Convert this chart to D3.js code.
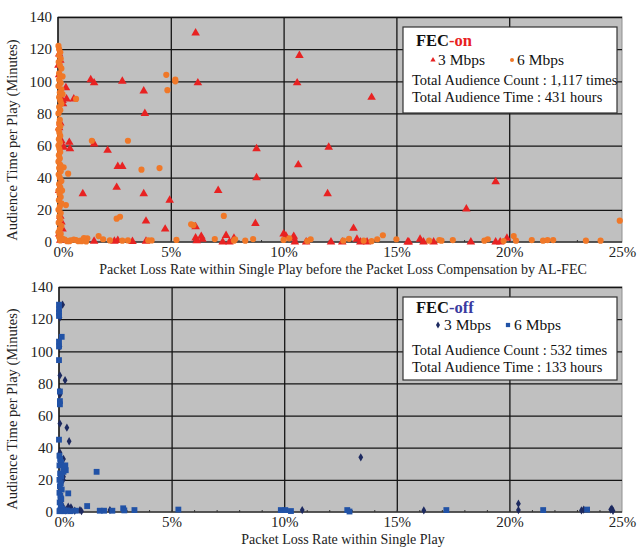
<!DOCTYPE html>
<html><head><meta charset="utf-8">
<script src="https://cdn.jsdelivr.net/npm/d3@7/dist/d3.min.js"></script>
<style>body{margin:0;background:#fff}svg text{font-family:"Liberation Serif","Times New Roman",Times,serif !important}</style>
</head><body><svg id="c" width="640" height="548"></svg>
<script>
const xTicks = [0, 5, 10, 15, 20, 25];
const xTickLabels = ["0%", "5%", "10%", "15%", "20%", "25%"];
const yTicks = [0, 20, 40, 60, 80, 100, 120, 140];

// FEC-on, 3 Mbps (red triangles): [loss %, minutes]
const fecOn3 = [
 [6.1,130],[10.7,116],[10.6,99],[6.2,99],[1.45,101],[1.6,99],[2.85,100],[3.8,94],[3.85,80],
 [0.35,96],[0.38,89],[0.22,86],[0.7,89],[0.5,62],[0.53,58],[0.25,59],[1.6,61],[2.2,57],
 [2.65,47],[2.85,47],[8.8,58],[8.8,40],[10.65,48],[1.1,30],[2.6,34],[3.8,30],[7.1,32],
 [4.95,26],[3.9,13],[8.75,11.5],[4.75,8],[6.1,9.5],[0.2,8],[13.9,90],[12.0,59],[11.95,30],
 [19.4,37.5],[18.1,20.5],[13.1,8.5],
 [0.05,117],[0.1,113],[0.02,110],[0.05,104],[0.2,88],[0.1,74],[0.05,71],[0.15,63],[0.05,32],
 [0.1,16],[0.15,12.5],[0.05,5],[0.1,1],
 [1.6,0.5],[2.65,1],[3.9,0.5],[6.1,2.5],[6.35,3.5],[7.45,4],[7.3,0],[7.6,0],[7.8,2.3],[10.0,5],
 [10.45,3.5],[10.5,0],[11.0,0],[12.1,0],[12.6,0],[13.25,1.7],[13.4,0],[13.7,0],[15.5,0],[15.55,0],
 [16.05,1.7],[16.2,0],[16.65,0],[18.3,0],[19.4,0],[19.6,0],[19.9,2.3],[6.15,0.8],[6.4,1.7],
 [10.1,3.7],[10.45,2.3],[2.5,0.5],[3.3,0.3]
];
// FEC-on, 6 Mbps (orange circles)
const fecOn6 = [
 [4.8,104],[4.85,94.5],[5.2,101],[5.2,100],[0.8,89],[1.5,63],[3.1,63],[3.7,45],[4.5,46],
 [0.25,46.5],[0.45,42.5],[0.35,23],[2.6,14.5],[2.75,15.7],[6.0,10.5],[5.9,11],[7.35,16.2],[24.9,13.3],
 [0.55,1],[1.05,0.5],[1.3,2.3],[1.8,3.7],[2.0,1.7],[2.3,1],[2.85,0.8],[3.1,1],[4.0,1],[4.15,1],
 [5.25,1.3],[6.95,1.8],[7.85,1.7],[7.8,0.8],[8.3,0.8],[8.65,1.8],[10.0,1.3],[10.25,2.3],[11.05,0.6],
 [11.2,1.7],[12.65,0.8],[12.9,2],[13.55,0.8],[13.9,0.5],[14.15,1.7],[14.4,4.2],[15.0,1.7],[16.45,0.8],
 [16.9,1.2],[17.0,0.8],[17.5,1.2],[18.9,0.8],[19.05,1.7],[19.75,0.6],[20.2,3.7],[20.3,0.8],[21.0,1.2],
 [21.5,0.8],[21.7,1.2],[21.95,1.2],[23.4,0.8],[24.05,0.8],
 [0.02,122],[0.05,120],[0.1,118],[0.05,116],[0.12,114],[0.03,112],[0.08,110],[0.15,108],[0.05,105],
 [0.1,103],[0.2,103],[0.05,101],[0.12,99],[0.02,97],[0.15,95],[0.08,93],[0.2,92],[0.05,90],[0.1,88],
 [0.15,86],[0.05,84],[0.1,82],[0.02,80],[0.08,76],[0.05,74],[0.1,72],[0.02,70],[0.06,68],[0.1,66],
 [0.04,64],[0.08,62],[0.02,60],[0.06,58],[0.1,56],[0.04,54],[0.08,52],[0.02,50],[0.1,48],[0.05,46],
 [0.12,44],[0.03,42],[0.08,40],[0.15,38],[0.05,36],[0.1,34],[0.02,32],[0.18,32],[0.07,30],[0.12,28],
 [0.04,26],[0.15,24],[0.08,22],[0.02,20],[0.12,18],[0.06,16],[0.1,14],[0.03,12],[0.15,10],[0.08,8],
 [0.02,6],[0.12,5],[0.05,3],[0.2,2],[0.1,1],[0.3,1.5],[0.4,0.5],[0.8,1.2],[1.0,0.8],
 [0.5,0.5],[0.7,1.5],[0.9,0.5],[1.15,2.5],[1.25,0.3]
];
// FEC-off, 3 Mbps (navy diamonds)
const fecOff3 = [
 [0.16,129],[0.04,121],[0.04,103],[0.04,85],[0.27,82],[0.04,75],[0.04,73],[0.04,55],[0.35,52.5],
 [0.45,44],[0.04,37],[0.2,33],[0.27,28],[0.18,29],[0.19,20],[0.05,20],[0.12,8.5],[0.1,10],[0.2,22],
 [0.41,3.3],[0.53,2.9],[0.15,4],[0.3,1],[0.7,0.8],[0.93,1.2],[1.0,0.5],[2.26,1.2],
 [10.8,1.2],[13.4,34],[16.2,1],[20.4,5.2],[20.4,1.2],[23.2,1],[23.3,1.5],[24.55,2],[24.6,0.8],[24.5,1.5]
];
// FEC-off, 6 Mbps (blue squares)
const fecOff6 = [
 [0,129],[0,126],[0,124],[0,122],[0.12,109],[0,106],[0,103],[0,94.5],[0.04,75],[0.04,69],[0.04,67],
 [0,45],[1.67,25],[0.41,11.6],[1.25,3.7],[0.75,0.8],[1.81,0.8],[2.0,0.8],[2.37,0.8],[2.85,2.3],
 [2.9,1],[3.35,1.2],[5.3,1.5],[9.85,1.2],[10.05,1.2],[10.3,0.6],[12.8,1.2],[12.9,0.3],[17.2,1.2],
 [21.5,1.2],[23.45,1.5],
 [0.02,35],[0.05,33],[0.1,31],[0.02,29],[0.25,27],[0.3,26],[0.2,25],[0.05,24],[0.1,22],[0.02,20],
 [0.08,18],[0.04,16],[0.12,14],[0.02,12],[0.06,10],[0.1,8],[0.03,6],[0.08,4],[0.15,2],[0.05,1],
 [0.25,0.5],[0.35,1],[0.5,0.5],[0.02,0.5],[0.2,28],[0.28,29]
];

const svg = d3.select("#c");
const C = {red:"#e82222", orange:"#f07828", navy:"#1d2a60", blue:"#2152a6", bg:"#c0c0c0"};

function panel(o){
  const x = d3.scaleLinear().domain([0,25]).range([o.l,o.r]);
  const y = d3.scaleLinear().domain([0,140]).range([o.b,o.t]);
  const g = svg.append("g");
  g.append("rect").attr("x",o.l).attr("y",o.t).attr("width",o.r-o.l).attr("height",o.b-o.t)
    .attr("fill",C.bg).attr("stroke","#909090").attr("stroke-width",1);
  g.append("g").attr("transform",`translate(0,${o.b})`)
    .call(d3.axisBottom(x).tickValues(xTicks.slice(1,5)).tickSize(-(o.b-o.t)).tickFormat(""))
    .call(s=>s.select(".domain").remove())
    .call(s=>s.selectAll("line").attr("stroke","#151515").attr("stroke-width",1.3));
  g.append("g").attr("transform",`translate(${o.l},0)`)
    .call(d3.axisLeft(y).tickValues(yTicks.slice(1)).tickSize(-(o.r-o.l)).tickFormat(""))
    .call(s=>s.select(".domain").remove())
    .call(s=>s.selectAll("line").attr("stroke","#151515").attr("stroke-width",1.3));
  g.append("g").attr("transform",`translate(0,${o.b})`)
    .call(d3.axisTop(x).tickValues(d3.range(1,25)).tickSize(2).tickFormat(""))
    .call(s=>s.select(".domain").remove())
    .call(s=>s.selectAll("line").attr("stroke","#333"));
  g.append("line").attr("x1",o.l).attr("x2",o.r).attr("y1",o.b).attr("y2",o.b).attr("stroke","#333").attr("stroke-width",1.5);
  g.append("line").attr("x1",o.l).attr("x2",o.l).attr("y1",o.t).attr("y2",o.b).attr("stroke","#111").attr("stroke-width",1.5);
  const ya = g.append("g").attr("transform",`translate(${o.l},0)`)
    .call(d3.axisLeft(y).tickValues(yTicks).tickSize(0).tickPadding(6));
  ya.select(".domain").remove();
  ya.selectAll("text").attr("font-size",15).attr("fill","#222");
  const xa = g.append("g").attr("transform",`translate(0,${o.b})`)
    .call(d3.axisBottom(x).tickValues(xTicks).tickSize(0).tickPadding(o.xpad).tickFormat((d,i)=>xTickLabels[i]));
  xa.select(".domain").remove();
  xa.selectAll("text").attr("font-size",15).attr("fill","#222")
    .attr("dx",(d,i)=> i===0 ? 5 : 0);
  g.append("text").attr("transform",`translate(${o.ytx},${o.yty}) rotate(-90)`).attr("text-anchor","middle")
    .attr("font-size",14.5).attr("fill","#222").text("Audience Time per Play (Minutes)");
  g.append("text").attr("x",o.xtx).attr("y",o.xty).attr("text-anchor","middle")
    .attr("font-size",14).attr("fill","#222").text(o.xtitle);
  o.series.forEach(s=>{
    g.append("g").selectAll("path").data(s.data).join("path")
      .attr("transform",d=>`translate(${x(d[0])},${y(d[1])})`)
      .attr("d",d3.symbol(s.sym,s.size)).attr("fill",s.color);
  });
  const L = o.legend;
  const lg = g.append("g");
  lg.append("rect").attr("x",L.x).attr("y",L.y).attr("width",L.w).attr("height",L.h)
    .attr("fill","#fff").attr("stroke","#333").attr("stroke-width",1.2);
  const t = lg.append("text").attr("x",L.x+13).attr("y",L.y+L.ty).attr("font-size",16.5).attr("font-weight","bold");
  t.append("tspan").attr("fill","#111").text("FEC");
  t.append("tspan").attr("fill",L.tagColor).text(L.tag);
  o.series.forEach((s,i)=>{
    const lx = L.x + L.items[i];
    lg.append("path").attr("transform",`translate(${lx},${L.y+L.iy-5})`)
      .attr("d",d3.symbol(s.sym,s.lsize)).attr("fill",s.color);
    lg.append("text").attr("x",lx+L.gap).attr("y",L.y+L.iy).attr("font-size",15.5).attr("fill","#111").text(s.name);
  });
  L.lines.forEach((ln,i)=>{
    lg.append("text").attr("x",L.x+9).attr("y",L.y+L.ly+i*17).attr("font-size",14.5).attr("fill","#111").text(ln);
  });
}

panel({l:58,r:622,t:17,b:242,xpad:4,ytx:17,yty:140,xtx:343,xty:274,
  xtitle:"Packet Loss Rate within Single Play before the Packet Loss Compensation by AL-FEC",
  series:[
    {name:"3 Mbps",data:fecOn3,sym:d3.symbolTriangle,size:32,lsize:12,color:C.red},
    {name:"6 Mbps",data:fecOn6,sym:d3.symbolCircle,size:30,lsize:13,color:C.orange}],
  legend:{x:403,y:27,w:214,h:86,ty:19,tag:"-on",tagColor:"#e8201e",items:[30,109],gap:5,iy:38,ly:58,
    lines:["Total Audience Count : 1,117 times","Total Audience Time : 431 hours"]}
});
panel({l:59,r:622,t:287,b:512,xpad:4,ytx:17,yty:409,xtx:343,xty:544,
  xtitle:"Packet Loss Rate within Single Play",
  series:[
    {name:"3 Mbps",data:fecOff3,sym:d3.symbolDiamond,size:20,lsize:14,color:C.navy},
    {name:"6 Mbps",data:fecOff6,sym:d3.symbolSquare,size:34,lsize:18,color:C.blue}],
  legend:{x:403,y:297,w:214,h:83,ty:16,tag:"-off",tagColor:"#3a3aa0",items:[35,105],gap:6,iy:33,ly:58,
    lines:["Total Audience Count : 532 times","Total Audience Time : 133 hours"]}
});
</script></body></html>
